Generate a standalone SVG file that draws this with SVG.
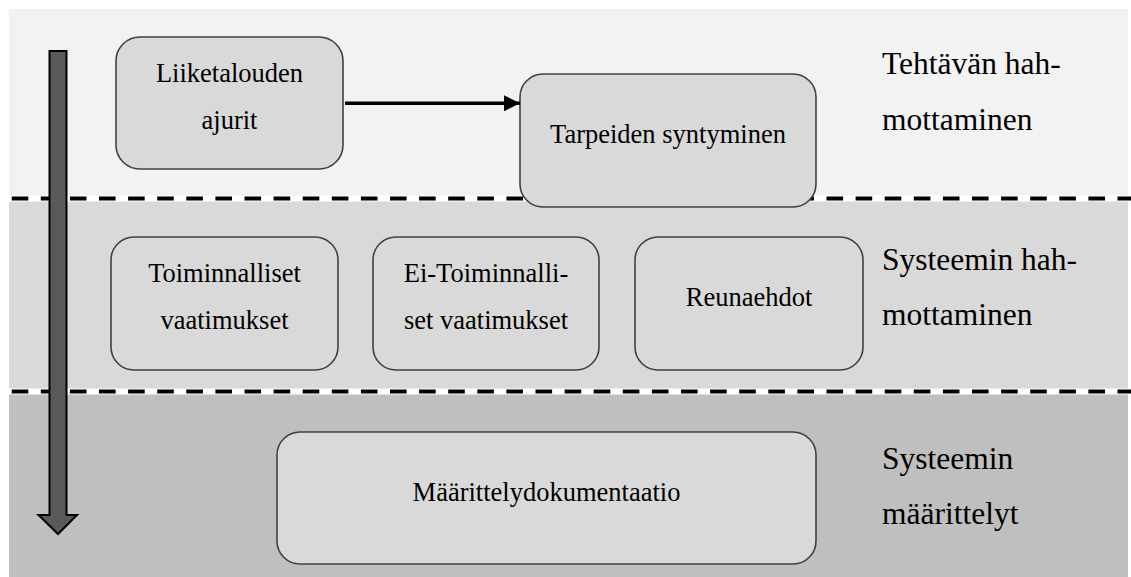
<svg xmlns="http://www.w3.org/2000/svg" width="1131" height="577" viewBox="0 0 1131 577">
<style>
.box{fill:#d9d9d9;stroke:#404040;stroke-width:1.6}
.t{font-size:26.5px;fill:#000;text-anchor:middle}
.lbl{font-size:31.5px;fill:#000}
.sepw{stroke:#fff;stroke-width:6}
.sepd{stroke:#000;stroke-width:4;stroke-dasharray:16.6 12.5}
</style>
<defs>
<marker id="ah" markerWidth="16" markerHeight="16" viewBox="0 0 16 16" refX="16" refY="8" orient="auto" markerUnits="userSpaceOnUse">
<path d="M0,0 L16,8 L0,16 Z" fill="#000"/>
</marker>
</defs>
<rect width="1131" height="577" fill="#fff"/>
<g id="bands">
<rect x="9" y="9" width="1119" height="191" fill="#f2f2f2"/>
<rect x="9" y="199" width="1119" height="194" fill="#d9d9d9"/>
<rect x="9" y="392" width="1119" height="185" fill="#bfbfbf"/>
<line class="sepw" x1="9" y1="198.5" x2="1131" y2="198.5"/>
<line class="sepd" x1="11.7" y1="198.5" x2="1131" y2="198.5"/>
<line class="sepw" x1="9" y1="391.5" x2="1131" y2="391.5"/>
<line class="sepd" x1="11.7" y1="391.5" x2="1131" y2="391.5"/>
</g>
<g font-family="Liberation Serif, Tinos, Times New Roman, DejaVu Serif, Noto Serif, serif">
<g id="labels">
<text class="lbl" x="882" y="74">Tehtävän hah-</text>
<text class="lbl" x="882" y="129.5">mottaminen</text>
<text class="lbl" x="882" y="269.5">Systeemin hah-</text>
<text class="lbl" x="882" y="325">mottaminen</text>
<text class="lbl" x="882" y="469">Systeemin</text>
<text class="lbl" x="882" y="524">määrittelyt</text>
</g>
<g id="node-liiketalous">
<rect class="box" x="116" y="37" width="227" height="132" rx="24"/>
<text class="t" x="229.5" y="82">Liiketalouden</text>
<text class="t" x="229.5" y="128.5">ajurit</text>
</g>
<g id="node-tarpeet">
<rect class="box" x="520" y="74" width="296" height="133" rx="23"/>
<text class="t" x="668" y="143">Tarpeiden syntyminen</text>
</g>
<g id="node-toiminnalliset">
<rect class="box" x="111" y="237" width="227" height="133" rx="23"/>
<text class="t" x="224.5" y="281.5">Toiminnalliset</text>
<text class="t" x="224.5" y="329">vaatimukset</text>
</g>
<g id="node-eitoiminnalliset">
<rect class="box" x="373" y="237" width="226" height="133" rx="23"/>
<text class="t" x="486" y="281.5">Ei-Toiminnalli-</text>
<text class="t" x="486" y="329">set vaatimukset</text>
</g>
<g id="node-reunaehdot">
<rect class="box" x="635" y="237" width="228" height="133" rx="23"/>
<text class="t" x="749" y="306">Reunaehdot</text>
</g>
<g id="node-maarittely">
<rect class="box" x="277" y="432" width="539" height="132" rx="23"/>
<text class="t" x="546.5" y="501">Määrittelydokumentaatio</text>
</g>
</g>
<g id="connectors">
<line x1="345" y1="103.3" x2="520" y2="103.3" stroke="#000" stroke-width="3.5" marker-end="url(#ah)"/>
<polygon points="49.5,51 66.5,51 66.5,515 77,515 58,534 38.5,515 49.5,515" fill="#595959" stroke="#000" stroke-width="2"/>
</g>
</svg>
